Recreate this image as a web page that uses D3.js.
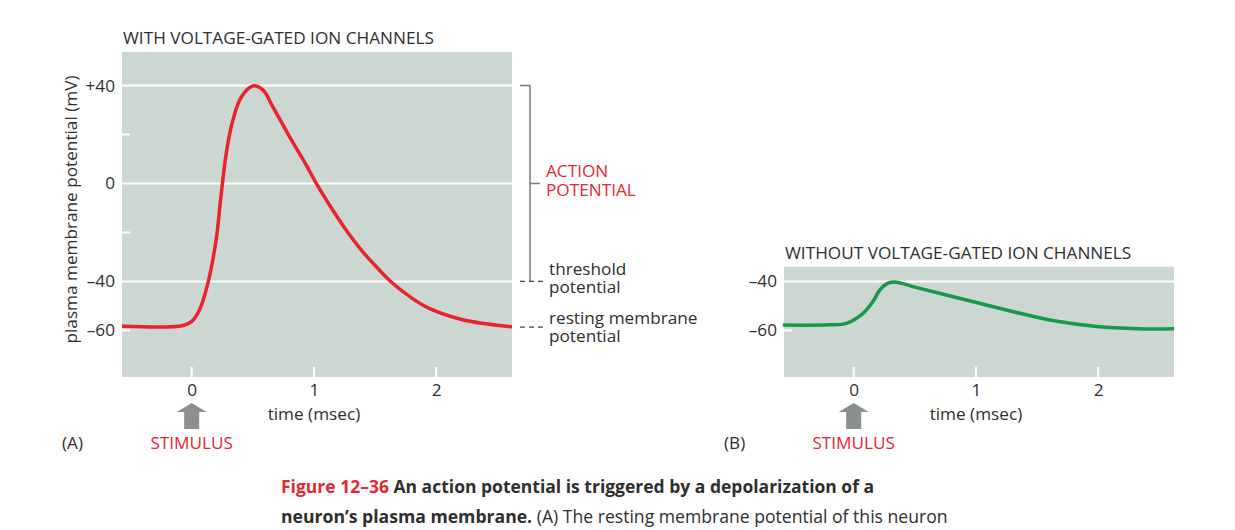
<html>
<head>
<script src="https://cdn.jsdelivr.net/npm/d3@7"></script>
<style>
  body { margin:0; background:#fff; }
  text { font-family: "Open Sans", "Noto Sans", sans-serif; fill:#2e2e2e; }
  .red { fill:#e8262d; }
</style>
</head>
<body>
<script>
// data: time (msec), membrane potential (mV)
var timeA = [-0.57, -0.07, 0, 0.065, 0.133, 0.2, 0.24, 0.283, 0.337, 0.406, 0.5, 0.582, 0.664, 0.8, 0.936, 1.018, 1.127, 1.263, 1.398, 1.535, 1.63, 1.807, 1.943, 2.215, 2.596, 2.62];
var voltA = [-58.3, -58.0, -56.3, -51.5, -40.6, -23, -5, 12.4, 25.9, 35.3, 39.8, 38.2, 31.3, 19.1, 7.6, 0.1, -8.8, -19.0, -27.8, -35.3, -40.1, -47.0, -51.0, -55.6, -58.4, -58.5];
var timeB = [-0.58, -0.2, -0.06, 0.076, 0.158, 0.213, 0.281, 0.349, 0.485, 0.97, 1.36, 1.64, 1.99, 2.32, 2.62];
var voltB = [-57.8, -57.7, -57.1, -53, -48.2, -43.5, -40.7, -40.3, -42.1, -48.2, -53, -56, -58.4, -59.3, -59.3];

var xTicks = [0, 1, 2];
var gridA = [40, 0, -40];
var minorA = [20, -20, -60];
var labelsA = [40, 0, -40, -60];
var gridB = [-40];
var minorB = [-60];
var labelsB = [-40, -60];

var W = 1235, H = 530, fs = "17.2px";
var svg = d3.select("body").append("svg").attr("width", W).attr("height", H);

var pw = 390, ph = 325;
var x = d3.scaleLinear().domain([-0.57, 2.62]).range([0, pw]);
var y = d3.scaleLinear().domain([-79, 53.67]).range([ph, 0]);

function fmt(v){ return v > 0 ? "+" + v : (v < 0 ? "\u2013" + Math.abs(v) : "0"); }

function panel(ox, oy, topV, title, times, volts, color, grid, minor, labels, letter){
  var g = svg.append("g").attr("transform", "translate(" + ox + "," + oy + ")");
  var top = y(topV);
  g.append("rect").attr("x", 0).attr("y", top).attr("width", pw).attr("height", ph - top).attr("fill", "#cdd7d2");

  g.selectAll(".grid").data(grid).enter().append("line")
    .attr("x1", 0).attr("x2", pw).attr("y1", d => y(d)).attr("y2", d => y(d))
    .attr("stroke", "#fff").attr("stroke-width", 2);
  g.selectAll(".minor").data(minor).enter().append("line")
    .attr("x1", 0).attr("x2", 8).attr("y1", d => y(d)).attr("y2", d => y(d))
    .attr("stroke", "#fff").attr("stroke-width", 2);
  g.selectAll(".xt").data(xTicks).enter().append("line")
    .attr("x1", d => x(d)).attr("x2", d => x(d)).attr("y1", ph - 10).attr("y2", ph)
    .attr("stroke", "#fff").attr("stroke-width", 2);

  // y labels
  var ya = d3.axisLeft(y).tickValues(labels).tickSize(0).tickPadding(7).tickFormat(fmt);
  g.append("g").call(ya).call(s => s.select(".domain").remove())
    .selectAll("text").style("font-size", fs).attr("fill", "#2e2e2e");
  // x labels
  var xa = d3.axisBottom(x).tickValues(xTicks).tickSize(0).tickPadding(7).tickFormat(d3.format("d"));
  g.append("g").attr("transform", "translate(0," + ph + ")").call(xa)
    .call(s => s.select(".domain").remove())
    .selectAll("text").style("font-size", fs).attr("fill", "#2e2e2e");

  g.append("text").attr("x", x(1)).attr("y", ph + 43).attr("text-anchor", "middle")
    .style("font-size", fs).text("time (msec)");
  g.append("text").attr("x", 1).attr("y", top - 8).style("font-size", fs).text(title);

  var line = d3.line().x(d => x(d[0])).y(d => y(d[1])).curve(d3.curveCatmullRom);
  g.append("path").datum(d3.zip(times, volts)).attr("d", line)
    .attr("fill", "none").attr("stroke", color).attr("stroke-width", 3.5);

  // stimulus arrow
  var ax = x(0), at = ph + 26;
  g.append("path").attr("d", "M" + ax + "," + at + " l15,9 h-7.5 v17 h-15 v-17 h-7.5 z").attr("fill", "#8b8f8d");
  g.append("text").attr("class", "red").attr("x", ax).attr("y", ph + 72).attr("text-anchor", "middle")
    .style("font-size", fs).text("STIMULUS");
  g.append("text").attr("x", -60).attr("y", ph + 72).style("font-size", fs).text(letter);
  return g;
}

var gA = panel(122, 52, 53.67, "WITH VOLTAGE-GATED ION CHANNELS", timeA, voltA, "#e8232b", gridA, minorA, labelsA, "(A)");
var gB = panel(784, 52, -34, "WITHOUT VOLTAGE-GATED ION CHANNELS", timeB, voltB, "#17994a", gridB, minorB, labelsB, "(B)");

// y axis title
gA.append("text").attr("transform", "translate(-45," + (ph / 2 - 5) + ") rotate(-90)")
  .attr("text-anchor", "middle").style("font-size", fs).text("plasma membrane potential (mV)");

// bracket annotations
var bx = pw + 18;
gA.append("path").attr("d", "M" + (bx - 10) + "," + y(40) + " H" + bx + " V" + y(-40) + " M" + bx + "," + y(0) + " h10")
  .attr("fill", "none").attr("stroke", "#7b7b7b").attr("stroke-width", 1.5);
gA.selectAll(".dash").data([-40, -58.6]).enter().append("line")
  .attr("x1", bx - 10).attr("x2", bx + 15).attr("y1", d => y(d)).attr("y2", d => y(d))
  .attr("stroke", "#444").attr("stroke-width", 1.2).attr("stroke-dasharray", "5,4");
var ap = gA.append("text").attr("class", "red").style("font-size", fs);
ap.append("tspan").attr("x", bx + 16).attr("y", y(0) - 6).text("ACTION");
ap.append("tspan").attr("x", bx + 16).attr("y", y(0) + 13).text("POTENTIAL");
var th = gA.append("text").style("font-size", fs);
th.append("tspan").attr("x", bx + 19).attr("y", y(-40) - 6).text("threshold");
th.append("tspan").attr("x", bx + 19).attr("y", y(-40) + 12).text("potential");
var rs = gA.append("text").style("font-size", fs);
rs.append("tspan").attr("x", bx + 19).attr("y", y(-58.6) - 3).text("resting membrane");
rs.append("tspan").attr("x", bx + 19).attr("y", y(-58.6) + 15).text("potential");

// caption
var cap1 = svg.append("text").attr("x", 281).attr("y", 493).style("font-size", "17.5px").style("font-weight", "bold");
cap1.append("tspan").attr("class", "red").text("Figure 12\u201336");
cap1.append("tspan").text(" An action potential is triggered by a depolarization of a");
var cap2 = svg.append("text").attr("x", 281).attr("y", 523).style("font-size", "17.6px");
cap2.append("tspan").style("font-weight", "bold").text("neuron\u2019s plasma membrane.");
cap2.append("tspan").text(" (A) The resting membrane potential of this neuron");
</script>
</body>
</html>
